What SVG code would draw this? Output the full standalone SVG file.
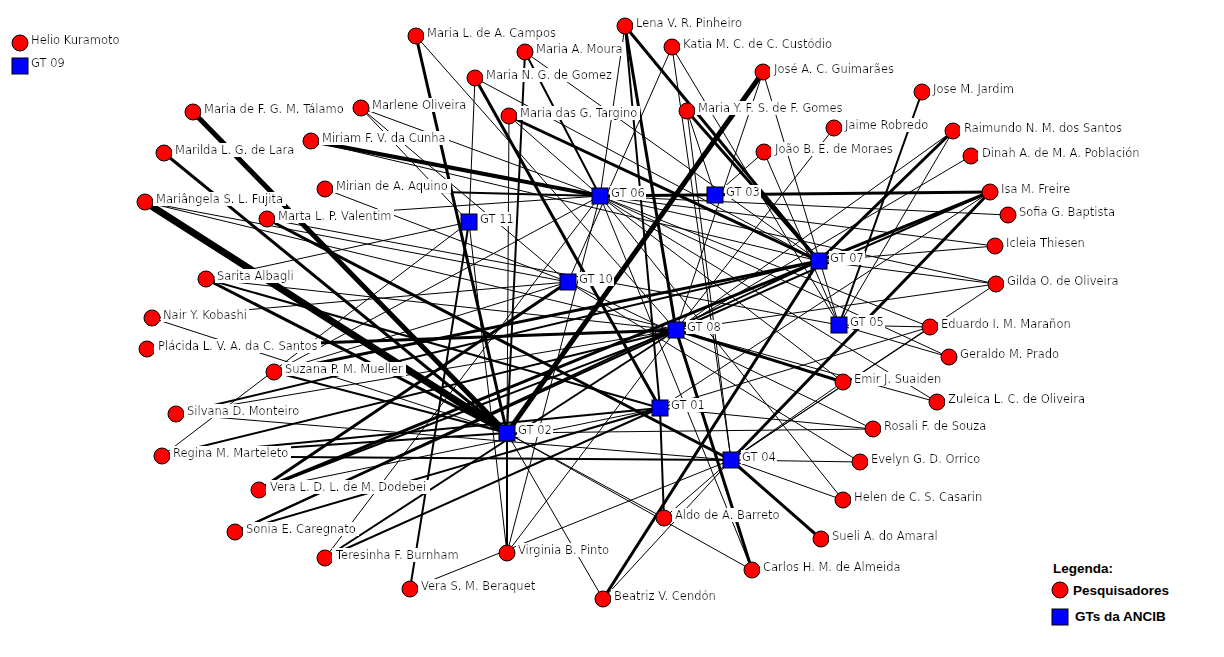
<svg xmlns="http://www.w3.org/2000/svg" width="1224" height="657" viewBox="0 0 1224 657">
<defs>
<filter id="bg" x="-0.02" y="0" width="1.04" height="1">
<feFlood flood-color="#ffffff" result="f"/>
<feMerge><feMergeNode in="f"/><feMergeNode in="SourceGraphic"/></feMerge>
</filter>
</defs>
<style>
line{stroke:#000;stroke-linecap:butt}
.t{stroke-width:1}.m{stroke-width:2}.k{stroke-width:3}.x{stroke-width:4}.y{stroke-width:5}.z{stroke-width:7}
.r{fill:#ff0000;stroke:#000;stroke-width:1}
.g{fill:#0000ff;stroke:#000;stroke-width:1}
text{font-family:"DejaVu Sans",Verdana,sans-serif;font-size:11.5px;fill:#000;filter:url(#bg)}
.lg{font-family:"Liberation Sans",Arial,sans-serif;font-weight:bold;font-size:13.5px;fill:#000;filter:none}
</style>
<rect width="1224" height="657" fill="#fff"/>
<g id="connectors">
<line x1="416" y1="36" x2="507" y2="433" class="k"/>
<line x1="416" y1="36" x2="676" y2="330" class="t"/>
<line x1="525" y1="52" x2="507" y2="433" class="m"/>
<line x1="525" y1="52" x2="600" y2="196" class="m"/>
<line x1="525" y1="52" x2="819" y2="261" class="t"/>
<line x1="625" y1="26" x2="676" y2="330" class="k"/>
<line x1="625" y1="26" x2="819" y2="261" class="k"/>
<line x1="625" y1="26" x2="600" y2="196" class="t"/>
<line x1="625" y1="26" x2="660" y2="408" class="m"/>
<line x1="672" y1="47" x2="568" y2="282" class="t"/>
<line x1="672" y1="47" x2="731" y2="460" class="t"/>
<line x1="672" y1="47" x2="839" y2="325" class="t"/>
<line x1="763" y1="72" x2="507" y2="433" class="y"/>
<line x1="763" y1="72" x2="839" y2="325" class="t"/>
<line x1="763" y1="72" x2="676" y2="330" class="t"/>
<line x1="475" y1="78" x2="660" y2="408" class="k"/>
<line x1="475" y1="78" x2="469" y2="222" class="t"/>
<line x1="475" y1="78" x2="819" y2="261" class="t"/>
<line x1="193" y1="112" x2="507" y2="433" class="y"/>
<line x1="361" y1="108" x2="600" y2="196" class="t"/>
<line x1="361" y1="108" x2="568" y2="282" class="t"/>
<line x1="361" y1="108" x2="469" y2="222" class="t"/>
<line x1="509" y1="116" x2="819" y2="261" class="k"/>
<line x1="509" y1="116" x2="507" y2="433" class="t"/>
<line x1="509" y1="116" x2="600" y2="196" class="t"/>
<line x1="687" y1="111" x2="819" y2="261" class="k"/>
<line x1="687" y1="111" x2="731" y2="460" class="t"/>
<line x1="687" y1="111" x2="715" y2="195" class="t"/>
<line x1="922" y1="92" x2="839" y2="325" class="m"/>
<line x1="834" y1="128" x2="676" y2="330" class="t"/>
<line x1="953" y1="131" x2="819" y2="261" class="k"/>
<line x1="953" y1="131" x2="676" y2="330" class="t"/>
<line x1="953" y1="131" x2="839" y2="325" class="t"/>
<line x1="764" y1="152" x2="715" y2="195" class="t"/>
<line x1="764" y1="152" x2="839" y2="325" class="t"/>
<line x1="971" y1="156" x2="676" y2="330" class="t"/>
<line x1="311" y1="141" x2="600" y2="196" class="x"/>
<line x1="311" y1="141" x2="819" y2="261" class="t"/>
<line x1="164" y1="153" x2="507" y2="433" class="k"/>
<line x1="325" y1="189" x2="600" y2="196" class="m"/>
<line x1="325" y1="189" x2="568" y2="282" class="t"/>
<line x1="990" y1="192" x2="600" y2="196" class="k"/>
<line x1="990" y1="192" x2="819" y2="261" class="k"/>
<line x1="990" y1="192" x2="731" y2="460" class="k"/>
<line x1="990" y1="192" x2="676" y2="330" class="m"/>
<line x1="990" y1="192" x2="660" y2="408" class="t"/>
<line x1="145" y1="202" x2="507" y2="433" class="z"/>
<line x1="145" y1="202" x2="676" y2="330" class="t"/>
<line x1="145" y1="202" x2="568" y2="282" class="t"/>
<line x1="267" y1="219" x2="731" y2="460" class="k"/>
<line x1="267" y1="219" x2="600" y2="196" class="t"/>
<line x1="267" y1="219" x2="839" y2="325" class="t"/>
<line x1="1008" y1="215" x2="600" y2="196" class="t"/>
<line x1="995" y1="246" x2="819" y2="261" class="t"/>
<line x1="995" y1="246" x2="600" y2="196" class="t"/>
<line x1="206" y1="279" x2="660" y2="408" class="m"/>
<line x1="206" y1="279" x2="676" y2="330" class="t"/>
<line x1="206" y1="279" x2="469" y2="222" class="t"/>
<line x1="206" y1="279" x2="507" y2="433" class="k"/>
<line x1="996" y1="284" x2="819" y2="261" class="t"/>
<line x1="996" y1="284" x2="676" y2="330" class="t"/>
<line x1="996" y1="284" x2="731" y2="460" class="t"/>
<line x1="996" y1="284" x2="600" y2="196" class="t"/>
<line x1="152" y1="318" x2="507" y2="433" class="t"/>
<line x1="152" y1="318" x2="568" y2="282" class="t"/>
<line x1="930" y1="327" x2="839" y2="325" class="t"/>
<line x1="930" y1="327" x2="731" y2="460" class="t"/>
<line x1="930" y1="327" x2="660" y2="408" class="t"/>
<line x1="930" y1="327" x2="600" y2="196" class="t"/>
<line x1="147" y1="349" x2="676" y2="330" class="k"/>
<line x1="949" y1="357" x2="839" y2="325" class="t"/>
<line x1="949" y1="357" x2="600" y2="196" class="t"/>
<line x1="274" y1="372" x2="507" y2="433" class="m"/>
<line x1="274" y1="372" x2="819" y2="261" class="k"/>
<line x1="274" y1="372" x2="600" y2="196" class="t"/>
<line x1="274" y1="372" x2="568" y2="282" class="t"/>
<line x1="843" y1="382" x2="676" y2="330" class="k"/>
<line x1="843" y1="382" x2="731" y2="460" class="t"/>
<line x1="843" y1="382" x2="600" y2="196" class="t"/>
<line x1="937" y1="402" x2="600" y2="196" class="t"/>
<line x1="937" y1="402" x2="676" y2="330" class="t"/>
<line x1="176" y1="414" x2="819" y2="261" class="m"/>
<line x1="176" y1="414" x2="731" y2="460" class="t"/>
<line x1="176" y1="414" x2="676" y2="330" class="t"/>
<line x1="873" y1="429" x2="660" y2="408" class="t"/>
<line x1="873" y1="429" x2="507" y2="433" class="t"/>
<line x1="873" y1="429" x2="568" y2="282" class="t"/>
<line x1="162" y1="456" x2="660" y2="408" class="m"/>
<line x1="162" y1="456" x2="731" y2="460" class="m"/>
<line x1="162" y1="456" x2="507" y2="433" class="m"/>
<line x1="162" y1="456" x2="469" y2="222" class="t"/>
<line x1="162" y1="456" x2="676" y2="330" class="m"/>
<line x1="860" y1="462" x2="731" y2="460" class="t"/>
<line x1="860" y1="462" x2="568" y2="282" class="t"/>
<line x1="259" y1="490" x2="568" y2="282" class="k"/>
<line x1="259" y1="490" x2="660" y2="408" class="t"/>
<line x1="259" y1="490" x2="819" y2="261" class="k"/>
<line x1="259" y1="490" x2="676" y2="330" class="m"/>
<line x1="843" y1="500" x2="731" y2="460" class="t"/>
<line x1="843" y1="500" x2="600" y2="196" class="t"/>
<line x1="664" y1="518" x2="660" y2="408" class="m"/>
<line x1="664" y1="518" x2="507" y2="433" class="t"/>
<line x1="664" y1="518" x2="731" y2="460" class="t"/>
<line x1="235" y1="532" x2="676" y2="330" class="m"/>
<line x1="235" y1="532" x2="660" y2="408" class="m"/>
<line x1="235" y1="532" x2="819" y2="261" class="m"/>
<line x1="821" y1="539" x2="731" y2="460" class="k"/>
<line x1="507" y1="553" x2="507" y2="433" class="m"/>
<line x1="507" y1="553" x2="469" y2="222" class="t"/>
<line x1="507" y1="553" x2="676" y2="330" class="t"/>
<line x1="507" y1="553" x2="600" y2="196" class="t"/>
<line x1="325" y1="558" x2="676" y2="330" class="m"/>
<line x1="325" y1="558" x2="660" y2="408" class="m"/>
<line x1="325" y1="558" x2="600" y2="196" class="t"/>
<line x1="752" y1="570" x2="676" y2="330" class="k"/>
<line x1="752" y1="570" x2="507" y2="433" class="t"/>
<line x1="752" y1="570" x2="600" y2="196" class="t"/>
<line x1="410" y1="589" x2="469" y2="222" class="m"/>
<line x1="410" y1="589" x2="731" y2="460" class="t"/>
<line x1="603" y1="599" x2="819" y2="261" class="k"/>
<line x1="603" y1="599" x2="731" y2="460" class="t"/>
<line x1="603" y1="599" x2="507" y2="433" class="t"/>
</g>
<g id="gt06"><rect class="g" x="592" y="188" width="16" height="16"/><text x="611" y="197">GT 06</text></g>
<g id="gt03"><rect class="g" x="707" y="187" width="16" height="16"/><text x="726" y="196">GT 03</text></g>
<g id="gt11"><rect class="g" x="461" y="214" width="16" height="16"/><text x="480" y="223">GT 11</text></g>
<g id="gt07"><rect class="g" x="811" y="253" width="16" height="16"/><text x="830" y="262">GT 07</text></g>
<g id="gt10"><rect class="g" x="560" y="274" width="16" height="16"/><text x="579" y="283">GT 10</text></g>
<g id="gt08"><rect class="g" x="668" y="322" width="16" height="16"/><text x="687" y="331">GT 08</text></g>
<g id="gt05"><rect class="g" x="831" y="317" width="16" height="16"/><text x="850" y="326">GT 05</text></g>
<g id="gt01"><rect class="g" x="652" y="400" width="16" height="16"/><text x="671" y="409">GT 01</text></g>
<g id="gt02"><rect class="g" x="499" y="425" width="16" height="16"/><text x="518" y="434">GT 02</text></g>
<g id="gt04"><rect class="g" x="723" y="452" width="16" height="16"/><text x="742" y="461">GT 04</text></g>
<g id="gt09"><rect class="g" x="12" y="58" width="16" height="16"/><text x="31" y="67">GT 09</text></g>
<g id="helio"><circle class="r" cx="20" cy="43" r="8"/><text x="31" y="44">Helio Kuramoto</text></g>
<g id="campos"><circle class="r" cx="416" cy="36" r="8"/><text x="427" y="37">Maria L. de A. Campos</text></g>
<g id="moura"><circle class="r" cx="525" cy="52" r="8"/><text x="536" y="53">Maria A. Moura</text></g>
<g id="lena"><circle class="r" cx="625" cy="26" r="8"/><text x="636" y="27">Lena V. R. Pinheiro</text></g>
<g id="katia"><circle class="r" cx="672" cy="47" r="8"/><text x="683" y="48">Katia M. C. de C. Custódio</text></g>
<g id="guimaraes"><circle class="r" cx="763" cy="72" r="8"/><text x="774" y="73">José A. C. Guimarães</text></g>
<g id="gomez"><circle class="r" cx="475" cy="78" r="8"/><text x="486" y="79">Maria N. G. de Gomez</text></g>
<g id="talamo"><circle class="r" cx="193" cy="112" r="8"/><text x="204" y="113">Maria de F. G. M. Tálamo</text></g>
<g id="marlene"><circle class="r" cx="361" cy="108" r="8"/><text x="372" y="109">Marlene Oliveira</text></g>
<g id="targino"><circle class="r" cx="509" cy="116" r="8"/><text x="520" y="117">Maria das G. Targino</text></g>
<g id="gomes"><circle class="r" cx="687" cy="111" r="8"/><text x="698" y="112">Maria Y. F. S. de F. Gomes</text></g>
<g id="jardim"><circle class="r" cx="922" cy="92" r="8"/><text x="933" y="93">Jose M. Jardim</text></g>
<g id="robredo"><circle class="r" cx="834" cy="128" r="8"/><text x="845" y="129">Jaime Robredo</text></g>
<g id="raimundo"><circle class="r" cx="953" cy="131" r="8"/><text x="964" y="132">Raimundo N. M. dos Santos</text></g>
<g id="moraes"><circle class="r" cx="764" cy="152" r="8"/><text x="775" y="153">João B. E. de Moraes</text></g>
<g id="poblacion"><circle class="r" cx="971" cy="156" r="8"/><text x="982" y="157">Dinah A. de M. A. Población</text></g>
<g id="miriam"><circle class="r" cx="311" cy="141" r="8"/><text x="322" y="142">Miriam F. V. da Cunha</text></g>
<g id="lara"><circle class="r" cx="164" cy="153" r="8"/><text x="175" y="154">Marilda L. G. de Lara</text></g>
<g id="aquino"><circle class="r" cx="325" cy="189" r="8"/><text x="336" y="190">Mirian de A. Aquino</text></g>
<g id="freire"><circle class="r" cx="990" cy="192" r="8"/><text x="1001" y="193">Isa M. Freire</text></g>
<g id="fujita"><circle class="r" cx="145" cy="202" r="8"/><text x="156" y="203">Mariângela S. L. Fujita</text></g>
<g id="valentim"><circle class="r" cx="267" cy="219" r="8"/><text x="278" y="220">Marta L. P. Valentim</text></g>
<g id="baptista"><circle class="r" cx="1008" cy="215" r="8"/><text x="1019" y="216">Sofia G. Baptista</text></g>
<g id="thiesen"><circle class="r" cx="995" cy="246" r="8"/><text x="1006" y="247">Icleia Thiesen</text></g>
<g id="albagli"><circle class="r" cx="206" cy="279" r="8"/><text x="217" y="280">Sarita Albagli</text></g>
<g id="gilda"><circle class="r" cx="996" cy="284" r="8"/><text x="1007" y="285">Gilda O. de Oliveira</text></g>
<g id="kobashi"><circle class="r" cx="152" cy="318" r="8"/><text x="163" y="319">Nair Y. Kobashi</text></g>
<g id="maranon"><circle class="r" cx="930" cy="327" r="8"/><text x="941" y="328">Eduardo I. M. Marañon</text></g>
<g id="placida"><circle class="r" cx="147" cy="349" r="8"/><text x="158" y="350">Plácida L. V. A. da C. Santos</text></g>
<g id="prado"><circle class="r" cx="949" cy="357" r="8"/><text x="960" y="358">Geraldo M. Prado</text></g>
<g id="mueller"><circle class="r" cx="274" cy="372" r="8"/><text x="285" y="373">Suzana P. M. Mueller</text></g>
<g id="suaiden"><circle class="r" cx="843" cy="382" r="8"/><text x="854" y="383">Emir J. Suaiden</text></g>
<g id="zuleica"><circle class="r" cx="937" cy="402" r="8"/><text x="948" y="403">Zuleica L. C. de Oliveira</text></g>
<g id="monteiro"><circle class="r" cx="176" cy="414" r="8"/><text x="187" y="415">Silvana D. Monteiro</text></g>
<g id="souza"><circle class="r" cx="873" cy="429" r="8"/><text x="884" y="430">Rosali F. de Souza</text></g>
<g id="marteleto"><circle class="r" cx="162" cy="456" r="8"/><text x="173" y="457">Regina M. Marteleto</text></g>
<g id="orrico"><circle class="r" cx="860" cy="462" r="8"/><text x="871" y="463">Evelyn G. D. Orrico</text></g>
<g id="dodebei"><circle class="r" cx="259" cy="490" r="8"/><text x="270" y="491">Vera L. D. L. de M. Dodebei</text></g>
<g id="casarin"><circle class="r" cx="843" cy="500" r="8"/><text x="854" y="501">Helen de C. S. Casarin</text></g>
<g id="barreto"><circle class="r" cx="664" cy="518" r="8"/><text x="675" y="519">Aldo de A. Barreto</text></g>
<g id="caregnato"><circle class="r" cx="235" cy="532" r="8"/><text x="246" y="533">Sonia E. Caregnato</text></g>
<g id="amaral"><circle class="r" cx="821" cy="539" r="8"/><text x="832" y="540">Sueli A. do Amaral</text></g>
<g id="pinto"><circle class="r" cx="507" cy="553" r="8"/><text x="518" y="554">Virginia B. Pinto</text></g>
<g id="burnham"><circle class="r" cx="325" cy="558" r="8"/><text x="336" y="559">Teresinha F. Burnham</text></g>
<g id="almeida"><circle class="r" cx="752" cy="570" r="8"/><text x="763" y="571">Carlos H. M. de Almeida</text></g>
<g id="beraquet"><circle class="r" cx="410" cy="589" r="8"/><text x="421" y="590">Vera S. M. Beraquet</text></g>
<g id="cendon"><circle class="r" cx="603" cy="599" r="8"/><text x="614" y="600">Beatriz V. Cendón</text></g>
<g id="legend">
<text class="lg" x="1053" y="573">Legenda:</text>
<circle class="r" cx="1060" cy="590" r="8"/>
<text class="lg" x="1073" y="595">Pesquisadores</text>
<rect class="g" x="1052" y="609" width="16" height="16"/>
<text class="lg" x="1075" y="621">GTs da ANCIB</text>
</g>
</svg>
